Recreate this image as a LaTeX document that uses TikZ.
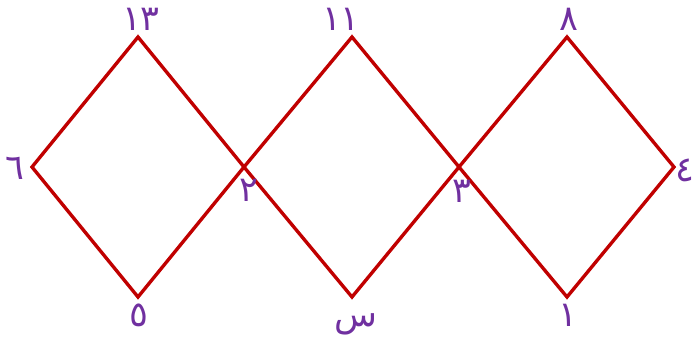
\documentclass[tikz,border=0pt]{standalone}
\usepackage{fontspec}
\newfontfamily\arabicfont[Script=Arabic]{DejaVu Sans}
\usetikzlibrary{positioning}
\definecolor{edgered}{RGB}{192,0,0}
\definecolor{labpurple}{RGB}{112,48,160}

\begin{document}
\begin{tikzpicture}[
  x=0.025cm, y=-0.025cm,
  edge/.style = {draw=edgered, line width=2.4pt, line join=miter},
  lbl/.style  = {text=labpurple, font=\arabicfont\fontsize{25}{28}\selectfont, inner sep=0pt},
]
  \useasboundingbox (0,0) rectangle (693,343);

  % corners of the three squares
  \coordinate (w)   at (32,167);
  \coordinate (ta)  at (138,37);
  \coordinate (ba)  at (138,297);
  \coordinate (ja)  at (244,167);
  \coordinate (tb)  at (352,37);
  \coordinate (bb)  at (352,297);
  \coordinate (jb)  at (459,167);
  \coordinate (tc)  at (567,37);
  \coordinate (bc)  at (567,297);
  \coordinate (e)   at (674,167);

  \draw[edge] (w)  -- (ta) -- (ja) -- (ba) -- cycle;
  \draw[edge] (ja) -- (tb) -- (jb) -- (bb) -- cycle;
  \draw[edge] (jb) -- (tc) -- (e)  -- (bc) -- cycle;

  % labels
  \node[lbl] (lta) at (141,19)  {١٣};
  \node[lbl] (ltb) at (341,19)  {١١};
  \node[lbl] (ltc) at (569,19)  {٨};
  \node[lbl] (lw)  at (15,168)  {٦};
  \node[lbl] (lja) at (249,190) {٢};
  \node[lbl] (ljb) at (462,191) {٣};
  \node[lbl] (le)  at (685,170) {٤};
  \node[lbl] (lba) at (139,315) {٥};
  \node[lbl] (lbb) at (356,324) {س};
  \node[lbl] (lbc) at (568,315) {١};
\end{tikzpicture}
\end{document}
